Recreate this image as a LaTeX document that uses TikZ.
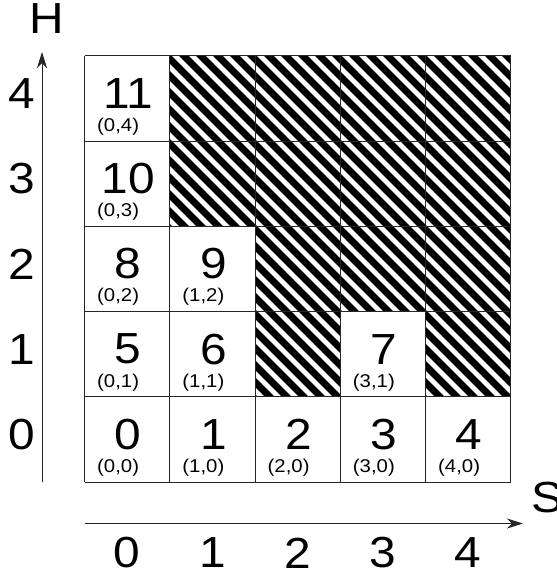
\documentclass[tikz,border=0pt]{standalone}
\usepackage{fontspec}
\setmainfont[FakeStretch=1.1]{Liberation Sans}
\usetikzlibrary{arrows.meta}
\begin{document}
\begin{tikzpicture}[x=1pt,y=-1pt,
  big/.style={inner sep=0pt,font=\fontsize{43.5}{48}\selectfont},
  small/.style={inner sep=0pt,font=\fontsize{18.5}{22}\selectfont},
  gridline/.style={draw=black!85,line width=0.9pt},
  stripe/.style={line width=6.8pt,black},
  axis/.style={line width=0.9pt,black!85,-{Stealth[length=16pt,width=10pt,inset=5pt]}}]
\useasboundingbox (0,0) rectangle (557,576);
% hatching
\begin{scope}
  \clip (169.75,55.75) rectangle (510.75,226.25)
        (255,226.25) rectangle (510.75,311.5)
        (255,311.5) rectangle (340.25,396.75)
        (425.5,311.5) rectangle (510.75,396.75);
  \foreach \k in {-18,...,26}
    \draw[stripe] ({43+17*\k+40},40) -- ({43+17*\k+500},500);
\end{scope}
% grid
\foreach \i in {0,...,5} {
  \draw[gridline] ({84.5+85.25*\i},55.75) -- ({84.5+85.25*\i},482);
  \draw[gridline] (84.5,{482-85.25*\i}) -- (510.75,{482-85.25*\i});
}
% cell labels
\foreach \cx/\ry/\n [count=\j] in {0/0/0,1/0/1,2/0/2,3/0/3,4/0/4,0/1/5,1/1/6,3/1/7,0/2/8,1/2/9,0/3/10,0/4/11} {
  \node[big] (n\j) at ({84.5+85.25*(\cx+0.5)+1},{482-85.25*(\ry+0.5)-5}) {\n};
  \node[small] (p\j) at ({84.5+85.25*(\cx+0.5)-9},{482-85.25*\ry-14.5}) {(\cx,\ry)};
}
% axes
\coordinate (h0) at (42,482);
\coordinate (h1) at (42,52);
\draw[axis] (h0) -- (h1);
\coordinate (s0) at (84.5,523.5);
\coordinate (s1) at (523,523.5);
\draw[axis] (s0) -- (s1);
\node[big] (H) at (47,18.5) {H};
\node[big] (S) at (547,498) {S};
\foreach \i in {0,...,4} {
  \node[big] (ly\i) at (22,{482-85.25*(\i+0.5)-5}) {\i};
  \node[big] (lx\i) at ({84.5+85.25*(\i+0.5)},553) {\i};
}
\end{tikzpicture}
\end{document}
